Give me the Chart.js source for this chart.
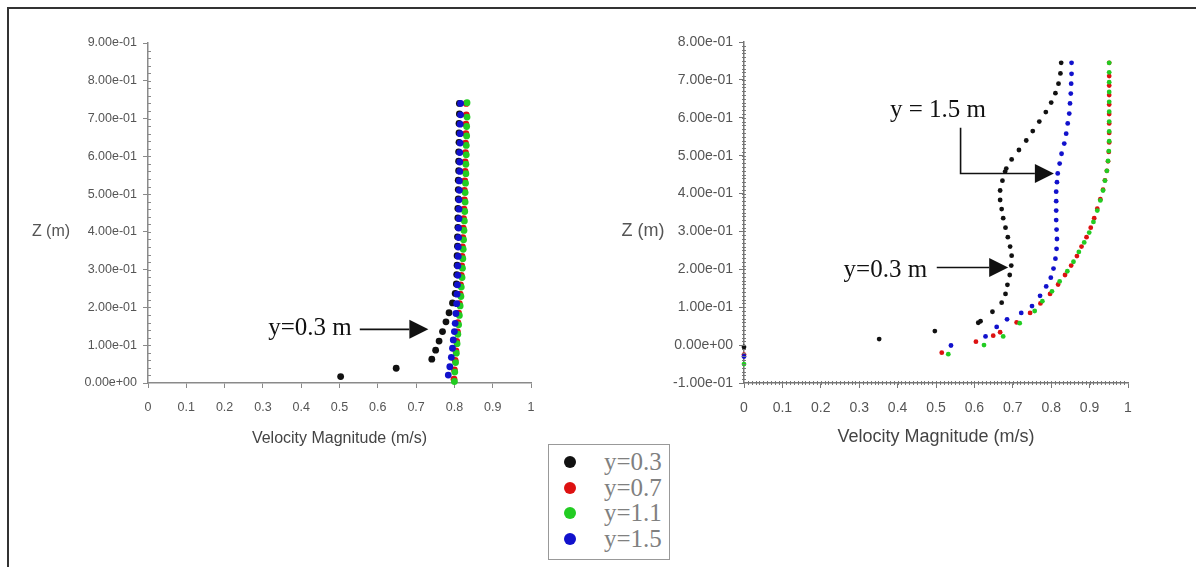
<!DOCTYPE html>
<html>
<head>
<meta charset="utf-8">
<script src="https://cdn.jsdelivr.net/npm/chart.js@4.4.1/dist/chart.umd.min.js"></script>
<style>
    body { margin: 0; background: #fff; width: 1196px; height: 567px; overflow: hidden; position: relative; }
    .frame { position: absolute; left: 7px; top: 7px; width: 1210px; height: 600px; border-left: 2px solid #333; border-top: 2px solid #333; }
    canvas { position: absolute; top: 0; }
    #leftChart { left: 0; }
    #rightChart { left: 596px; }
    #legend {
        position: absolute; left: 548px; top: 444px; width: 122px; height: 116px;
        border: 1.5px solid #999; background: #fff; padding-top: 4px; box-sizing: border-box;
        font-family: 'Liberation Serif', 'Times New Roman', serif; font-size: 25px; color: #808080;
    }
    #legend .row { height: 25.5px; line-height: 25.5px; position: relative; }
    #legend .dot { position: absolute; left: 15px; top: 7px; width: 12px; height: 12px; border-radius: 50%; }
    #legend .txt { position: absolute; left: 55px; top: 0; }
</style>
</head>
<body>
<div class="frame"></div>
<canvas id="leftChart" width="600" height="460"></canvas>
<canvas id="rightChart" width="600" height="460"></canvas>
<div id="legend"></div>

<script>
// Velocity profiles [velocity m/s, z m] at four spanwise stations

const seriesLabels = ['y=0.3', 'y=0.7', 'y=1.1', 'y=1.5'];
const seriesColors = ['#111111', '#dd1111', '#22cc22', '#1111cc'];
// higher weight is painted first (underneath)
const seriesOrder = [4, 3, 2, 1];

// left case
const leftY03 = [
    [0.503, 0.017], [0.648, 0.039], [0.741, 0.063], [0.751, 0.087], [0.760, 0.111], [0.769, 0.136],
    [0.778, 0.162], [0.786, 0.186], [0.795, 0.212], [0.802, 0.237], [0.805, 0.262], [0.806, 0.287],
    [0.807, 0.312], [0.807, 0.337], [0.808, 0.362], [0.808, 0.387], [0.809, 0.412], [0.809, 0.437],
    [0.809, 0.462], [0.810, 0.487], [0.810, 0.512], [0.810, 0.537], [0.811, 0.562], [0.811, 0.587],
    [0.811, 0.612], [0.812, 0.637], [0.812, 0.662], [0.812, 0.687], [0.813, 0.712], [0.813, 0.740]
];
const leftY07 = [
    [0.799, 0.010], [0.800, 0.035], [0.802, 0.060], [0.804, 0.085], [0.806, 0.110], [0.808, 0.135],
    [0.809, 0.160], [0.811, 0.185], [0.813, 0.210], [0.815, 0.235], [0.816, 0.260], [0.818, 0.285],
    [0.819, 0.310], [0.820, 0.335], [0.821, 0.360], [0.822, 0.385], [0.823, 0.410], [0.824, 0.435],
    [0.825, 0.460], [0.826, 0.485], [0.826, 0.510], [0.827, 0.535], [0.828, 0.560], [0.828, 0.585],
    [0.829, 0.610], [0.829, 0.635], [0.830, 0.660], [0.830, 0.685], [0.831, 0.710], [0.831, 0.740]
];
const leftY11 = [
    [0.800, 0.004], [0.801, 0.029], [0.803, 0.054], [0.805, 0.079], [0.807, 0.104], [0.809, 0.129],
    [0.811, 0.154], [0.813, 0.179], [0.815, 0.204], [0.817, 0.229], [0.818, 0.254], [0.820, 0.279],
    [0.821, 0.304], [0.822, 0.329], [0.823, 0.354], [0.824, 0.379], [0.825, 0.404], [0.826, 0.429],
    [0.827, 0.454], [0.828, 0.479], [0.828, 0.504], [0.829, 0.529], [0.830, 0.554], [0.830, 0.579],
    [0.831, 0.604], [0.831, 0.629], [0.832, 0.654], [0.832, 0.679], [0.833, 0.704], [0.833, 0.742]
];
const leftY15 = [
    [0.784, 0.021], [0.788, 0.043], [0.792, 0.068], [0.795, 0.092], [0.797, 0.114], [0.800, 0.136],
    [0.802, 0.158], [0.804, 0.184], [0.806, 0.210], [0.807, 0.235], [0.808, 0.260], [0.809, 0.285],
    [0.809, 0.310], [0.810, 0.335], [0.810, 0.360], [0.811, 0.385], [0.811, 0.410], [0.812, 0.435],
    [0.812, 0.460], [0.812, 0.485], [0.813, 0.510], [0.813, 0.535], [0.814, 0.560], [0.814, 0.585],
    [0.814, 0.610], [0.815, 0.635], [0.815, 0.660], [0.815, 0.685], [0.816, 0.710], [0.816, 0.740]
];

// right case
const rightY03 = [
    [0.000, -0.005], [0.352, 0.016], [0.497, 0.037], [0.610, 0.059], [0.616, 0.063], [0.647, 0.088],
    [0.671, 0.112], [0.681, 0.135], [0.686, 0.159], [0.692, 0.185], [0.696, 0.210], [0.697, 0.236],
    [0.693, 0.260], [0.687, 0.285], [0.681, 0.310], [0.675, 0.335], [0.671, 0.359], [0.667, 0.383],
    [0.667, 0.408], [0.673, 0.434], [0.680, 0.458], [0.683, 0.466], [0.697, 0.490], [0.716, 0.515],
    [0.735, 0.540], [0.752, 0.565], [0.769, 0.590], [0.786, 0.615], [0.800, 0.640], [0.811, 0.665],
    [0.819, 0.690], [0.824, 0.717], [0.826, 0.745]
];
const rightY07 = [
    [0.000, -0.025], [0.515, -0.020], [0.604, 0.009], [0.649, 0.025], [0.667, 0.034], [0.710, 0.060],
    [0.745, 0.085], [0.772, 0.110], [0.797, 0.135], [0.818, 0.160], [0.836, 0.185], [0.852, 0.210],
    [0.867, 0.235], [0.879, 0.260], [0.892, 0.285], [0.903, 0.310], [0.912, 0.335], [0.920, 0.360],
    [0.928, 0.385], [0.935, 0.410], [0.940, 0.435], [0.945, 0.460], [0.948, 0.485], [0.950, 0.510],
    [0.951, 0.535], [0.951, 0.560], [0.951, 0.585], [0.951, 0.610], [0.951, 0.635], [0.951, 0.660],
    [0.951, 0.685], [0.951, 0.710], [0.951, 0.745]
];
const rightY11 = [
    [0.000, -0.050], [0.532, -0.024], [0.625, 0.000], [0.675, 0.023], [0.718, 0.058], [0.757, 0.090],
    [0.777, 0.116], [0.802, 0.142], [0.822, 0.168], [0.842, 0.195], [0.858, 0.220], [0.872, 0.246],
    [0.886, 0.271], [0.899, 0.297], [0.910, 0.325], [0.920, 0.355], [0.928, 0.382], [0.935, 0.408],
    [0.940, 0.434], [0.945, 0.460], [0.948, 0.486], [0.950, 0.512], [0.951, 0.538], [0.951, 0.564],
    [0.951, 0.590], [0.951, 0.616], [0.951, 0.642], [0.951, 0.668], [0.951, 0.694], [0.951, 0.720],
    [0.951, 0.745]
];
const rightY15 = [
    [0.000, -0.030], [0.539, -0.001], [0.629, 0.023], [0.658, 0.048], [0.685, 0.068], [0.722, 0.085],
    [0.750, 0.103], [0.771, 0.130], [0.787, 0.155], [0.799, 0.178], [0.806, 0.202], [0.811, 0.228],
    [0.814, 0.254], [0.815, 0.280], [0.814, 0.305], [0.813, 0.330], [0.813, 0.355], [0.813, 0.380],
    [0.813, 0.405], [0.815, 0.430], [0.817, 0.453], [0.822, 0.479], [0.827, 0.505], [0.834, 0.532],
    [0.839, 0.558], [0.843, 0.585], [0.847, 0.611], [0.849, 0.638], [0.851, 0.664], [0.852, 0.690],
    [0.853, 0.716], [0.853, 0.745]
];

// call-outs, in data units
const leftNotes = [
    { text: 'y=0.3 m', at: [0.423, 0.145], path: [[0.553, 0.142], [0.732, 0.142]] }
];
const rightNotes = [
    { text: 'y = 1.5 m', at: [0.505, 0.620], path: [[0.564, 0.574], [0.564, 0.453], [0.807, 0.453]] },
    { text: 'y=0.3 m', at: [0.368, 0.198], path: [[0.502, 0.205], [0.688, 0.205]] }
];

const SANS = "'Liberation Sans', Arial, sans-serif";
const SERIF = "'Liberation Serif', 'Times New Roman', serif";

const expLabel = v => {
    const s = Number(v).toExponential(2);
    return s.replace(/e([+-])(\d)$/, 'e$10$2');
};

// minor ticks, "Z (m)" label and arrow call-outs
const extras = {
    id: 'extras',
    afterDraw(chart, args, o) {
        const { ctx, chartArea, scales: { x, y } } = chart;
        ctx.save();
        ctx.strokeStyle = o.axisColor;
        ctx.lineWidth = 1;
        ctx.beginPath();
        if (o.yMinor) {
            const n = Math.round((y.max - y.min) / o.yMinor);
            for (let i = 1; i < n; i++) {
                const py = Math.round(y.getPixelForValue(y.min + i * o.yMinor)) + 0.5;
                ctx.moveTo(chartArea.left - o.minorOut, py);
                ctx.lineTo(chartArea.left + o.minorIn, py);
            }
        }
        if (o.xMinor) {
            const n = Math.round((x.max - x.min) / o.xMinor);
            for (let i = 1; i < n; i++) {
                const px = Math.round(x.getPixelForValue(x.min + i * o.xMinor)) + 0.5;
                ctx.moveTo(px, chartArea.bottom + o.minorOut);
                ctx.lineTo(px, chartArea.bottom - o.minorIn);
            }
        }
        ctx.stroke();

        // vertical axis caption, written horizontally
        ctx.fillStyle = '#555';
        ctx.font = o.zFont + 'px ' + SANS;
        ctx.textAlign = 'center';
        ctx.textBaseline = 'middle';
        ctx.fillText('Z (m)', chartArea.left + o.zDx, y.getPixelForValue(o.zAt));

        // call-outs
        ctx.font = '25px ' + SERIF;
        ctx.fillStyle = '#111';
        ctx.strokeStyle = '#111';
        ctx.lineWidth = 1.6;
        o.notes.forEach(n => {
            ctx.fillText(n.text, x.getPixelForValue(n.at[0]), y.getPixelForValue(n.at[1]));
            const pts = n.path.map(p => [x.getPixelForValue(p[0]), y.getPixelForValue(p[1])]);
            const tip = pts[pts.length - 1];
            const prev = pts[pts.length - 2];
            const ang = Math.atan2(tip[1] - prev[1], tip[0] - prev[0]);
            const len = 19, half = 9.5;
            ctx.beginPath();
            ctx.moveTo(pts[0][0], pts[0][1]);
            for (let i = 1; i < pts.length - 1; i++) ctx.lineTo(pts[i][0], pts[i][1]);
            ctx.lineTo(tip[0] - len * Math.cos(ang), tip[1] - len * Math.sin(ang));
            ctx.stroke();
            ctx.beginPath();
            ctx.moveTo(tip[0], tip[1]);
            ctx.lineTo(tip[0] - len * Math.cos(ang) - half * Math.sin(ang), tip[1] - len * Math.sin(ang) + half * Math.cos(ang));
            ctx.lineTo(tip[0] - len * Math.cos(ang) + half * Math.sin(ang), tip[1] - len * Math.sin(ang) - half * Math.cos(ang));
            ctx.closePath();
            ctx.fill();
        });
        ctx.restore();
    }
};

function makeDatasets(seriesList, radius) {
    return seriesList.map((pts, i) => ({
        label: seriesLabels[i],
        data: pts.map(p => ({ x: p[0], y: p[1] })),
        backgroundColor: seriesColors[i],
        borderColor: seriesColors[i],
        borderWidth: 0,
        pointRadius: radius,
        order: seriesOrder[i],
        clip: false
    }));
}

function makeChart(id, cfg) {
    return new Chart(document.getElementById(id), {
        type: 'scatter',
        data: { datasets: makeDatasets(cfg.series, cfg.radius) },
        options: {
            responsive: false,
            animation: false,
            events: [],
            layout: { padding: { left: 48, top: cfg.top, right: cfg.right, bottom: 12 } },
            plugins: {
                legend: { display: false },
                tooltip: { enabled: false },
                extras: cfg.extras
            },
            scales: {
                x: {
                    type: 'linear', min: 0, max: 1,
                    afterFit: s => { s.height = 65; },
                    border: { color: cfg.axisColor, width: 1.5 },
                    grid: { drawOnChartArea: false, drawTicks: true, tickLength: 5, color: cfg.axisColor },
                    ticks: {
                        stepSize: 0.1, padding: 12, color: '#555', maxRotation: 0,
                        font: { family: SANS, size: cfg.tickSize },
                        callback: v => String(Number(v.toFixed(1)))
                    },
                    title: {
                        display: true, text: 'Velocity Magnitude (m/s)', color: '#444',
                        font: { family: SANS, size: cfg.titleSize }, padding: 0
                    }
                },
                y: {
                    type: 'linear', min: cfg.yMin, max: cfg.yMax,
                    afterFit: s => { s.width = 100; },
                    border: { color: cfg.axisColor, width: 1.5 },
                    grid: { drawOnChartArea: false, drawTicks: true, tickLength: 5, color: cfg.axisColor },
                    ticks: {
                        stepSize: 0.1, padding: 6, color: '#555',
                        font: { family: SANS, size: cfg.tickSize },
                        callback: expLabel
                    }
                }
            }
        },
        plugins: [extras]
    });
}

makeChart('leftChart', {
    series: [leftY03, leftY07, leftY11, leftY15],
    radius: 3.4, yMin: 0, yMax: 0.9, top: 43, right: 69,
    tickSize: 12.5, titleSize: 16, axisColor: '#8a8a8a',
    extras: {
        axisColor: '#8a8a8a', yMinor: 0.02, xMinor: 0, minorIn: 3, minorOut: 0,
        zFont: 16, zDx: -97, zAt: 0.4, notes: leftNotes
    }
});

makeChart('rightChart', {
    series: [rightY03, rightY07, rightY11, rightY15],
    radius: 2.4, yMin: -0.1, yMax: 0.8, top: 42, right: 68,
    tickSize: 14, titleSize: 18, axisColor: '#777',
    extras: {
        axisColor: '#777', yMinor: 0.01, xMinor: 0.01, minorIn: 2, minorOut: 2,
        zFont: 18, zDx: -101, zAt: 0.3, notes: rightNotes
    }
});

// legend box between the two plots
const legend = document.getElementById('legend');
seriesLabels.forEach((lab, i) => {
    const row = document.createElement('div');
    row.className = 'row';
    row.innerHTML = `<span class="dot" style="background:${seriesColors[i]}"></span><span class="txt">${lab}</span>`;
    legend.appendChild(row);
});
</script>
</body>
</html>
